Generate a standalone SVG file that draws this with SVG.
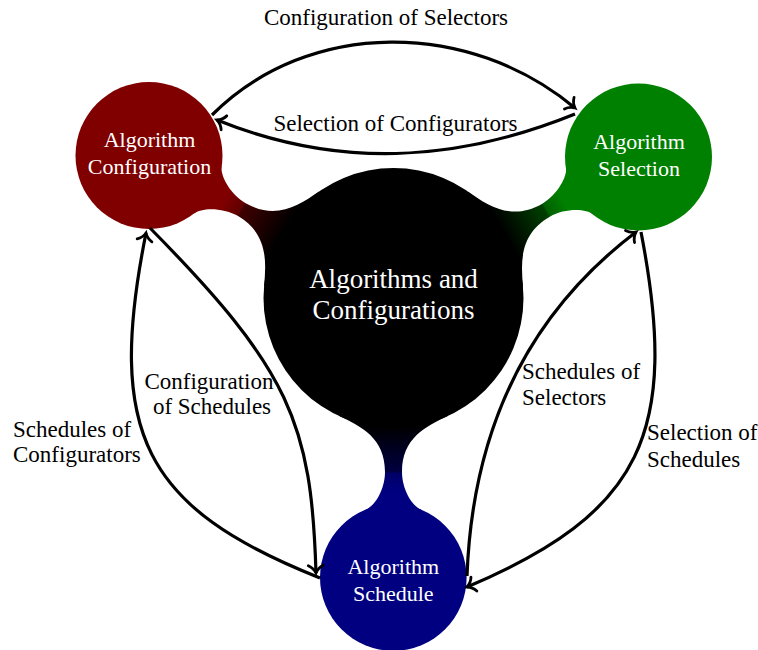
<svg xmlns="http://www.w3.org/2000/svg" width="758" height="650" viewBox="0 0 758 650">
  <defs>
    <style>
      .node-label { font-family: "Liberation Serif", "Times New Roman", serif; font-size: 22px; fill: #ffffff; text-anchor: middle; }
      .hub-label { font-family: "Liberation Serif", "Times New Roman", serif; font-size: 27px; fill: #ffffff; text-anchor: middle; }
      .edge-label { font-family: "Liberation Serif", "Times New Roman", serif; font-size: 23px; fill: #000000; }
      .edge { fill: none; stroke: #000000; stroke-width: 3.2; marker-end: url(#tip); }
    </style>
    <!-- open curved arrow tip -->
    <marker id="tip" markerUnits="userSpaceOnUse" orient="auto" overflow="visible" refX="0" refY="0" markerWidth="20" markerHeight="20">
      <path d="M -7.5 -7.5 C -5.5 -3.2 -2.2 -1 0 0 C -2.2 1 -5.5 3.2 -7.5 7.5" fill="none" stroke="#000000" stroke-width="2.8" stroke-linecap="round"/>
    </marker>
    <!-- bridge shading, in the local frame of each bridge (axis along +y) -->
    <linearGradient id="fade-red" gradientUnits="userSpaceOnUse" x1="0" y1="128" x2="0" y2="196">
      <stop offset="0" stop-color="#000000"/>
      <stop offset="0.69" stop-color="#400000"/>
      <stop offset="0.72" stop-color="#600000"/>
      <stop offset="1" stop-color="#800000"/>
    </linearGradient>
    <linearGradient id="fade-green" gradientUnits="userSpaceOnUse" x1="0" y1="128" x2="0" y2="196">
      <stop offset="0" stop-color="#000000"/>
      <stop offset="0.69" stop-color="#004000"/>
      <stop offset="0.72" stop-color="#006000"/>
      <stop offset="1" stop-color="#008000"/>
    </linearGradient>
    <linearGradient id="fade-blue" gradientUnits="userSpaceOnUse" x1="0" y1="128" x2="0" y2="194">
      <stop offset="0" stop-color="#000000"/>
      <stop offset="0.69" stop-color="#000040"/>
      <stop offset="0.72" stop-color="#000068"/>
      <stop offset="1" stop-color="#000080"/>
    </linearGradient>
  </defs>

  <!-- necks joining the hub to the three outer discs -->
  <g id="bridges">
    <path transform="translate(393.5 298) rotate(120.23)" fill="url(#fade-red)"
          d="M -54.9 117.8 C -32.2 128.4 -7.5 141 -7.5 176 C -7.5 193 -18.2 211.3 -27.5 215 L -27.5 250 L 27.5 250 L 27.5 215 C 18.2 211.3 7.5 193 7.5 176 C 7.5 141 32.2 128.4 54.9 117.8 L 0 80 Z"/>
    <path transform="translate(393.5 298) rotate(-119.92)" fill="url(#fade-green)"
          d="M -54.9 117.8 C -32.2 128.4 -7.5 141 -7.5 176 C -7.5 193 -18.2 211.3 -27.5 215 L -27.5 250 L 27.5 250 L 27.5 215 C 18.2 211.3 7.5 193 7.5 176 C 7.5 141 32.2 128.4 54.9 117.8 L 0 80 Z"/>
    <path transform="translate(393.5 298)" fill="url(#fade-blue)"
          d="M -54.9 117.8 C -32.2 128.4 -8.5 140 -8.5 174 C -8.5 191 -18.2 207.8 -27.5 211.5 L -27.5 250 L 27.5 250 L 27.5 211.5 C 18.2 207.8 8.5 191 8.5 174 C 8.5 140 32.2 128.4 54.9 117.8 L 0 80 Z"/>
  </g>

  <g id="hub">
    <circle cx="393.5" cy="298" r="130" fill="#000000"/>
    <text class="hub-label" x="393.5" y="287.5">Algorithms and</text>
    <text class="hub-label" x="393.5" y="318.5">Configurations</text>
  </g>

  <g id="configuration">
    <circle cx="149" cy="155.5" r="73.5" fill="#800000"/>
    <text class="node-label" x="149.5" y="147">Algorithm</text>
    <text class="node-label" x="149.5" y="174">Configuration</text>
  </g>

  <g id="selection">
    <circle cx="638.5" cy="157" r="73.5" fill="#008000"/>
    <text class="node-label" x="639" y="148.5">Algorithm</text>
    <text class="node-label" x="639" y="176">Selection</text>
  </g>

  <g id="schedule">
    <circle cx="393.3" cy="577.5" r="73.3" fill="#000080"/>
    <text class="node-label" x="393.3" y="573.5">Algorithm</text>
    <text class="node-label" x="393.3" y="601">Schedule</text>
  </g>

  <g id="connectors">
    <path class="edge" d="M 212 115 C 309 18 470 20 575 108"/>
    <path class="edge" d="M 575 114 C 454.5 162.7 337.5 168.7 217 120"/>
    <path class="edge" d="M 150 228 C 290 370 311.5 423 316 573"/>
    <path class="edge" d="M 320 578 C 143.3 507.7 106 433 146 233"/>
    <path class="edge" d="M 467 576 C 472 440 520 320 636 232"/>
    <path class="edge" d="M 641 232 C 680 433 642 513 467 587"/>
  </g>

  <g id="edge-labels">
    <text class="edge-label" x="386" y="25" text-anchor="middle">Configuration of Selectors</text>
    <text class="edge-label" x="395.5" y="131" text-anchor="middle">Selection of Configurators</text>
    <text class="edge-label" x="209" y="388.5" text-anchor="middle">Configuration</text>
    <text class="edge-label" x="212" y="413.5" text-anchor="middle">of Schedules</text>
    <text class="edge-label" x="13" y="437">Schedules of</text>
    <text class="edge-label" x="13" y="462">Configurators</text>
    <text class="edge-label" x="522" y="378.5">Schedules of</text>
    <text class="edge-label" x="522" y="405">Selectors</text>
    <text class="edge-label" x="647" y="440">Selection of</text>
    <text class="edge-label" x="647" y="467">Schedules</text>
  </g>
</svg>
